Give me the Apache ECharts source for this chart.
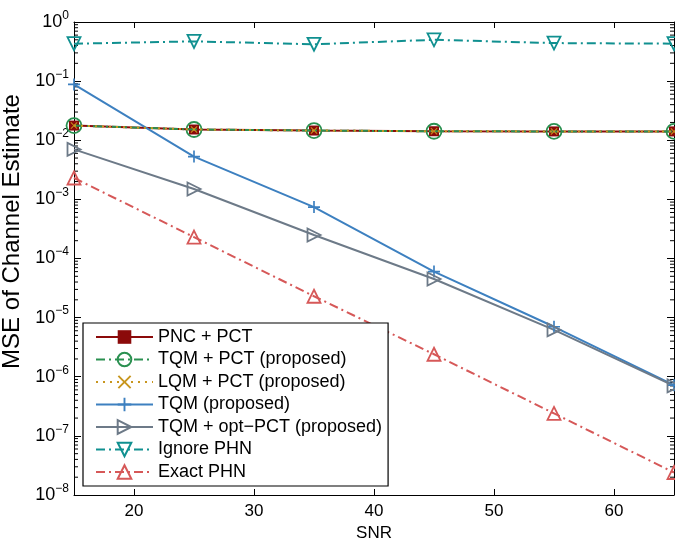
<!DOCTYPE html>
<html><head><meta charset="utf-8">
<script src="https://cdn.jsdelivr.net/npm/echarts@6/dist/echarts.min.js"></script>
<style>html,body{margin:0;padding:0;background:#fff}#c{width:675px;height:542px}</style>
</head><body><div id="c"></div>
<script>
const snr = [15, 25, 35, 45, 55, 65];
const pncPct = [0.0177, 0.0152, 0.0146, 0.0142, 0.0141, 0.0141];
const tqmPct = [0.0177, 0.0152, 0.0146, 0.0142, 0.0141, 0.0141];
const lqmPct = [0.0177, 0.0152, 0.0146, 0.0142, 0.0141, 0.0141];
const tqm = [0.088, 0.0053, 7.4e-4, 6.0e-5, 7.0e-6, 7.2e-7];
const tqmOpt = [7.0e-3, 1.5e-3, 2.5e-4, 4.5e-5, 6.2e-6, 7.0e-7];
const ignorePhn = [0.43, 0.47, 0.42, 0.50, 0.44, 0.43];
const exactPhn = [2.3e-3, 2.3e-4, 2.3e-5, 2.4e-6, 2.4e-7, 2.4e-8];
const xTicks = [20, 30, 40, 50, 60];
const names = ['PNC + PCT','TQM + PCT (proposed)','LQM + PCT (proposed)','TQM (proposed)','TQM + opt\u2212PCT (proposed)','Ignore PHN','Exact PHN'];

const minorVals = [];
for (let n = -8; n < 0; n++) for (let k = 2; k <= 9; k++) minorVals.push(k * Math.pow(10, n));

const pair = arr => snr.map((x, i) => [x, arr[i]]);
const dashDot = [9, 4, 2, 4];
const font = 'Liberation Sans, Arial, sans-serif';
const xPath = 'path://M0,1L1,0L5,4L9,0L10,1L6,5L10,9L9,10L5,6L1,10L0,9L4,5Z';
const plusPath = 'path://M4.3,0H5.7V4.3H10V5.7H5.7V10H4.3V5.7H0V4.3H4.3Z';
const triUp = 'path://M5,0L10,9L0,9Z';
const triDown = 'path://M0,0L10,0L5,9Z';
const triRight = 'path://M0,0L9,5L0,10Z';
const open = c => ({color: 'rgba(255,255,255,0)', borderColor: c, borderWidth: 1.8});

const chart = echarts.init(document.getElementById('c'));
const sup = v => {
  const e = Math.round(Math.log10(v));
  return '{b|10}{s|' + (e < 0 ? '\u2212' + (-e) : e) + '}';
};
chart.setOption({
  animation: false,
  textStyle: {fontFamily: font},
  grid: {left: 74, right: 1, top: 22, bottom: 47, outerBoundsMode: 'none', containLabel: false},
  xAxis: [{
    type: 'value', min: 15, max: 65, position: 'bottom',
    name: 'SNR', nameLocation: 'middle', nameGap: 30,
    nameTextStyle: {fontSize: 17, color: '#000', fontFamily: font},
    axisLine: {lineStyle: {color: '#000', width: 1}},
    axisTick: {inside: true, length: 6, customValues: xTicks, lineStyle: {color: '#000'}},
    axisLabel: {customValues: xTicks, fontSize: 17, color: '#000', margin: 8, fontFamily: font},
    splitLine: {show: false}
  }, {
    type: 'value', min: 15, max: 65, position: 'top',
    axisLine: {lineStyle: {color: '#000', width: 1}},
    axisTick: {inside: true, length: 6, customValues: xTicks, lineStyle: {color: '#000'}},
    axisLabel: {show: false}, splitLine: {show: false}
  }],
  yAxis: [{
    type: 'log', logBase: 10, min: 1e-8, max: 1, position: 'left',
    name: 'MSE of Channel Estimate', nameLocation: 'middle', nameGap: 44,
    nameTextStyle: {fontSize: 24, color: '#000', fontFamily: font, padding: [0, 0, 0, 54]},
    axisLine: {lineStyle: {color: '#000', width: 1}},
    axisTick: {inside: true, length: 7, lineStyle: {color: '#000'}},
    axisLabel: {
      color: '#000', margin: 5, formatter: sup,
      rich: {
        b: {fontSize: 18, fontFamily: font, color: '#000'},
        s: {fontSize: 12, fontFamily: font, color: '#000', padding: [0, 0, 13, 0]}
      }
    },
    splitLine: {show: false}
  }, {
    type: 'log', logBase: 10, min: 1e-8, max: 1, position: 'right',
    axisLine: {lineStyle: {color: '#000', width: 1}},
    axisTick: {inside: true, length: 7, lineStyle: {color: '#000'}},
    axisLabel: {show: false}, splitLine: {show: false}
  }],
  legend: {
    data: names, orient: 'vertical', left: 83, top: 323,
    backgroundColor: '#fff', borderColor: '#000', borderWidth: 1.2, borderRadius: 0,
    padding: [5, 6, 5, 12], itemGap: 4.5, itemWidth: 57, itemHeight: 17,
    textStyle: {fontSize: 18, color: '#000', fontFamily: font}
  },
  series: [
    {
      type: 'custom', silent: true, z: 1, xAxisIndex: 0, yAxisIndex: 0,
      data: minorVals.map(v => [15, v]),
      renderItem: (params, api) => {
        const v = api.value(1);
        const l = api.coord([15, v]);
        const r = api.coord([65, v]);
        return {type: 'group', children: [
          {type: 'line', shape: {x1: l[0], y1: l[1], x2: l[0] + 4, y2: l[1]}, style: {stroke: '#000', lineWidth: 1}},
          {type: 'line', shape: {x1: r[0], y1: r[1], x2: r[0] - 4, y2: r[1]}, style: {stroke: '#000', lineWidth: 1}}
        ]};
      }
    },
    {
      name: names[0], type: 'line', data: pair(pncPct), z: 3,
      lineStyle: {color: '#8b0a0a', width: 2},
      symbol: 'rect', symbolSize: 10,
      itemStyle: {color: '#8b0a0a', borderColor: '#8b0a0a', borderWidth: 0}
    },
    {
      name: names[1], type: 'line', data: pair(tqmPct), z: 4,
      lineStyle: {color: '#2a9050', width: 2, type: dashDot},
      symbol: 'circle', symbolSize: 15,
      itemStyle: open('#2a9050')
    },
    {
      name: names[2], type: 'line', data: pair(lqmPct), z: 5,
      lineStyle: {color: '#c8961e', width: 2, type: [2, 5]},
      symbol: xPath, symbolSize: 7,
      itemStyle: {color: '#c8961e', borderWidth: 0}
    },
    {
      name: names[3], type: 'line', data: pair(tqm), z: 3,
      lineStyle: {color: '#3d80c0', width: 2},
      symbol: plusPath, symbolSize: 12,
      itemStyle: {color: '#3d80c0', borderWidth: 0}
    },
    {
      name: names[4], type: 'line', data: pair(tqmOpt), z: 3,
      lineStyle: {color: '#6d7a88', width: 2},
      symbol: triRight, symbolSize: 13,
      itemStyle: open('#6d7a88')
    },
    {
      name: names[5], type: 'line', data: pair(ignorePhn), z: 3,
      lineStyle: {color: '#109090', width: 2, type: dashDot},
      symbol: triDown, symbolSize: 13,
      itemStyle: open('#109090')
    },
    {
      name: names[6], type: 'line', data: pair(exactPhn), z: 3,
      lineStyle: {color: '#d65858', width: 2, type: dashDot},
      symbol: triUp, symbolSize: 13,
      itemStyle: open('#d65858')
    }
  ]
});
</script></body></html>
